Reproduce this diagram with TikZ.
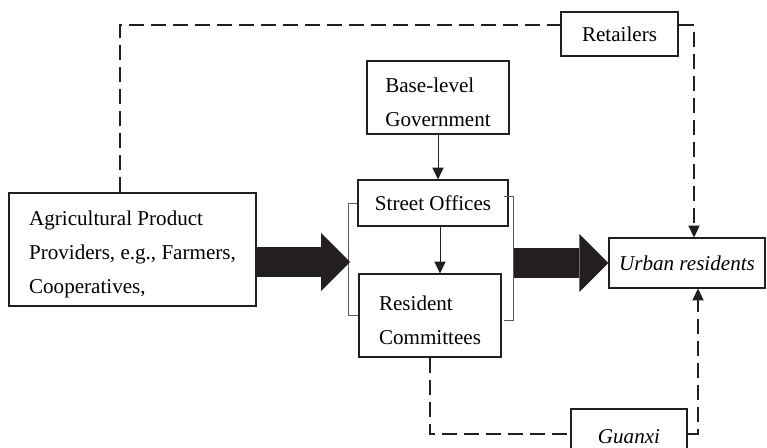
\documentclass[tikz,border=0pt]{standalone}
\usepackage{fontspec}
\setmainfont{Liberation Serif}
\usetikzlibrary{arrows.meta}
\definecolor{LineBlack}{HTML}{231F20}
\definecolor{BracketGray}{HTML}{5A5A5A}
\newcommand{\boxstrut}{\rule{0pt}{21pt}}

\begin{document}
\begin{tikzpicture}[x=0.03cm, y=-0.03cm,
    box/.style={draw=LineBlack, line width=1pt, align=left, inner sep=0pt, font=\fontsize{18}{29}\selectfont},
    link/.style={LineBlack, line width=1pt, dash pattern=on 12.8pt off 6pt},
    linkarrow/.style={link, -{Triangle[width=9.5pt,length=10pt]}},
    arrow/.style={-{Triangle[width=9.5pt,length=10pt]}, LineBlack, line width=0.8pt},
    bigarrow/.style={-{Triangle[width=49.5pt,length=24.7pt,line width=0pt]}, LineBlack, line width=25.6pt},
    bracket/.style={draw=BracketGray, line width=0.6pt}
  ]
  \clip (0,0) rectangle (767,447);

  % Boxes
  \node[box, minimum width=7.41cm, minimum height=3.39cm] (agri) at (132.5,249.5) {\boxstrut Agricultural Product\\Providers, e.g., Farmers,\\Cooperatives,};
  \node[box, minimum width=4.26cm, minimum height=2.19cm] (govt) at (438,97.5) {\boxstrut Base-level\\Government};
  \node[box, minimum width=4.5cm, minimum height=1.38cm] (street) at (433,203) {Street Offices};
  \node[box, minimum width=4.26cm, minimum height=2.49cm] (resid) at (430,315.5) {\boxstrut Resident\\Committees};
  \node[box, minimum width=3.51cm, minimum height=1.32cm] (retail) at (619.5,34) {Retailers};
  \node[box, minimum width=4.68cm, minimum height=1.5cm, font=\fontsize{18}{29}\selectfont\itshape] (urban) at (687,263) {Urban residents};
  \node[box, minimum width=3.48cm, minimum height=1.68cm, font=\fontsize{18}{29}\selectfont\itshape] (guanxi) at (629,437) {Guanxi};

  % Corner points
  \coordinate (corner) at (120,25);
  \coordinate (rcorner) at (694,25);
  \coordinate (bcorner) at (430,434);
  \coordinate (gcorner) at (698,434);
  \coordinate (lbr) at (350,262);
  \coordinate (rbr) at (514,263);

  % Brackets
  \draw[bracket] (street.west) -- ++(-9,0) |- (resid.west);
  \draw[bracket] (504,196) -- (513,196) -- (513,320) -- (504,320);

  % Dashed links
  \draw[link] (agri.north -| corner) -- (corner) -- (retail.west |- corner);
  \draw[linkarrow] (retail.east |- rcorner) -- (rcorner) -- (urban.north -| rcorner);
  \draw[link] (resid.south -| bcorner) -- (bcorner) -- (guanxi.west |- bcorner);
  \draw[linkarrow] (guanxi.east |- gcorner) -- (gcorner) -- (urban.south -| gcorner);

  % Arrows
  \draw[arrow] (govt.south) -- (govt.south |- street.north);
  \draw[arrow] ([xshift=0.21cm]street.south) -- ([xshift=0.21cm]street.south |- resid.north);
  \draw[bigarrow] (agri.east |- lbr) -- (lbr);
  \draw[bigarrow] (rbr) -- (urban.west |- rbr);
\end{tikzpicture}
\end{document}
